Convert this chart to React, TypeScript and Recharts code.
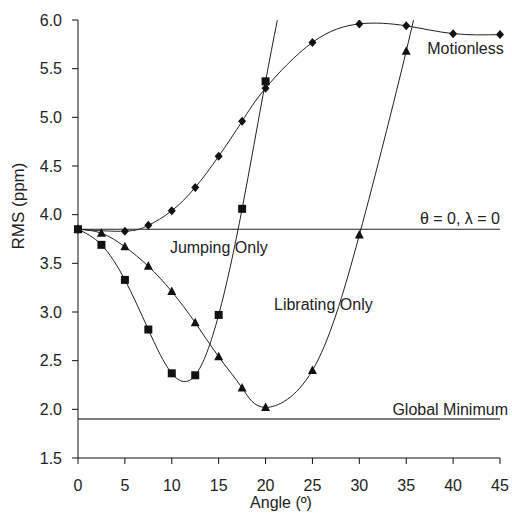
import React from "react"
import { LineChart, Line, XAxis, YAxis, ReferenceLine, ReferenceDot, Label } from "recharts"

// valeurs
const xTicks = [0, 5, 10, 15, 20, 25, 30, 35, 40, 45]
const yTicks = [1.5, 2.0, 2.5, 3.0, 3.5, 4.0, 4.5, 5.0, 5.5, 6.0]

const motionlessAngle = [0, 5, 7.5, 10, 12.5, 15, 17.5, 20, 25, 30, 35, 40, 45]
const motionlessRms = [3.85, 3.83, 3.89, 4.04, 4.28, 4.6, 4.96, 5.3, 5.77, 5.96, 5.94, 5.86, 5.85]

const jumpingAngle = [0, 2.5, 5, 7.5, 10, 12.5, 15, 17.5, 20]
const jumpingRms = [3.85, 3.69, 3.33, 2.82, 2.37, 2.35, 2.97, 4.06, 5.37]
// the curve keeps going past the top of the frame
const jumpingTailAngle = [22.5]
const jumpingTailRms = [6.6]

const libratingAngle = [0, 2.5, 5, 7.5, 10, 12.5, 15, 17.5, 20, 25, 30, 35]
const libratingRms = [3.85, 3.81, 3.67, 3.47, 3.21, 2.89, 2.54, 2.22, 2.02, 2.4, 3.79, 5.68]
const libratingTailAngle = [37]
const libratingTailRms = [6.55]

const noMotionLevel = 3.85
const globalMinimum = 1.9

const FONT = "'Liberation Sans', Arial, sans-serif"

const build = (xs: number[], ys: number[], tx: number[] = [], ty: number[] = []) => [
  ...xs.map((x, i) => ({ x, y: ys[i], tail: false })),
  ...tx.map((x, i) => ({ x, y: ty[i], tail: true })),
]

const motionless = build(motionlessAngle, motionlessRms)
const jumping = build(jumpingAngle, jumpingRms, jumpingTailAngle, jumpingTailRms)
const librating = build(libratingAngle, libratingRms, libratingTailAngle, libratingTailRms)

const marker = (shape: "diamond" | "square" | "triangle") => (props: any) => {
  const { cx, cy, payload, index } = props
  if (payload.tail || cx == null || cy == null) return <g key={index} />
  if (shape === "square")
    return <rect key={index} x={cx - 4} y={cy - 4} width={8} height={8} fill="#111" />
  if (shape === "triangle")
    return <polygon key={index} points={`${cx},${cy - 5} ${cx + 4.5},${cy + 3.5} ${cx - 4.5},${cy + 3.5}`} fill="#111" />
  return <polygon key={index} points={`${cx},${cy - 4.5} ${cx + 4},${cy} ${cx},${cy + 4.5} ${cx - 4},${cy}`} fill="#111" />
}

const note = (text: string, anchor: "start" | "end") => (props: any) => {
  const { x, y } = props.viewBox
  return (
    <text x={x} y={y} textAnchor={anchor} fontSize={16} fontFamily={FONT} fill="#222">
      {text}
    </text>
  )
}

export default function App() {
  return (
    <div style={{ position: "absolute", left: 0, top: 0, background: "#fff" }}>
      <LineChart width={512} height={513} margin={{ top: 20, right: 12, left: 0, bottom: 0 }}>
        <XAxis
          type="number"
          dataKey="x"
          domain={[0, 45]}
          ticks={xTicks}
          tickSize={6}
          tickMargin={16}
          height={55}
          stroke="#111"
          tick={{ fill: "#222", fontSize: 16, fontFamily: FONT }}
        >
          <Label
            content={(p: any) => (
              <text x={p.viewBox.x + p.viewBox.width / 2 - 8} y={508} textAnchor="middle" fontSize={16} fontFamily={FONT} fill="#222">
                Angle (º)
              </text>
            )}
          />
        </XAxis>
        <YAxis
          type="number"
          domain={[1.5, 6]}
          ticks={yTicks}
          allowDataOverflow
          tickFormatter={(v: number) => v.toFixed(1)}
          tickSize={6}
          tickMargin={10}
          width={78}
          stroke="#111"
          tick={{ fill: "#222", fontSize: 16, fontFamily: FONT }}
        >
          <Label
            content={(p: any) => {
              const cx = 24
              const cy = p.viewBox.y + p.viewBox.height / 2 - 33
              return (
                <text x={cx} y={cy} transform={`rotate(-90, ${cx}, ${cy})`} textAnchor="middle" fontSize={17} fontFamily={FONT} fill="#222">
                  RMS (ppm)
                </text>
              )
            }}
          />
        </YAxis>

        <ReferenceLine y={noMotionLevel} stroke="#222" strokeWidth={1.2} />
        <ReferenceLine y={globalMinimum} stroke="#555" strokeWidth={1.5} />

        <Line data={motionless} dataKey="y" type="natural" stroke="#222" strokeWidth={1} dot={marker("diamond")} isAnimationActive={false} />
        <Line data={librating} dataKey="y" type="natural" stroke="#222" strokeWidth={1} dot={marker("triangle")} isAnimationActive={false} />
        <Line data={jumping} dataKey="y" type="natural" stroke="#222" strokeWidth={1} dot={marker("square")} isAnimationActive={false} />

        <ReferenceDot x={45.4} y={5.65} r={0} ifOverflow="visible" label={note("Motionless", "end")} />
        <ReferenceDot x={45} y={3.9} r={0} ifOverflow="visible" label={note("θ = 0, λ = 0", "end")} />
        <ReferenceDot x={45.85} y={1.94} r={0} ifOverflow="visible" label={note("Global Minimum", "end")} />
        <ReferenceDot x={9.8} y={3.61} r={0} ifOverflow="visible" label={note("Jumping Only", "start")} />
        <ReferenceDot x={20.9} y={3.02} r={0} ifOverflow="visible" label={note("Librating Only", "start")} />
      </LineChart>
    </div>
  )
}
